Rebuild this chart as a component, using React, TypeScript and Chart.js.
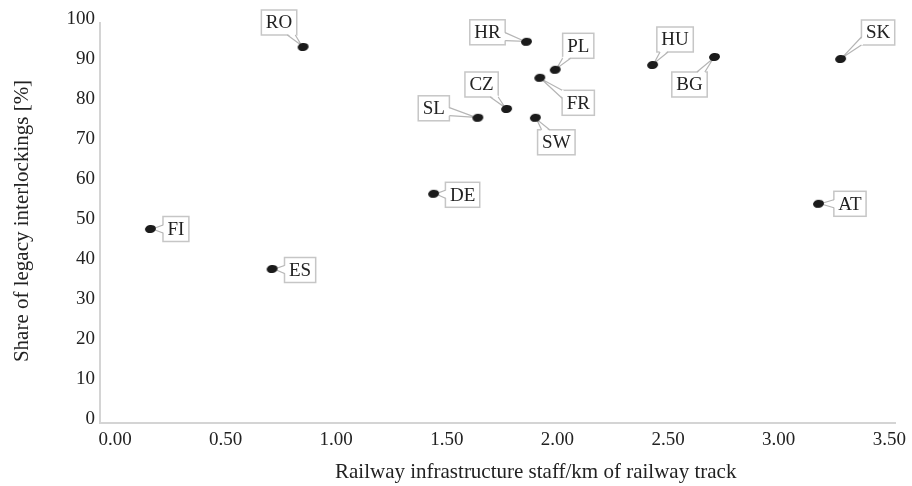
import React, { useEffect, useRef } from "react";
import { Chart, registerables } from "chart.js";

Chart.register(...registerables);

// ---- data ----
const countries = ["RO", "HR", "PL", "CZ", "SL", "FR", "SW", "HU", "BG", "SK", "FI", "ES", "DE", "AT"];
const staffPerKm = [0.85, 1.86, 1.99, 1.77, 1.64, 1.92, 1.9, 2.43, 2.71, 3.28, 0.16, 0.71, 1.44, 3.18];
const legacyShare = [94.0, 95.3, 88.3, 78.5, 76.3, 86.3, 76.3, 89.5, 91.5, 91.0, 48.5, 38.5, 57.3, 54.8];
const xTicks = [0, 0.5, 1, 1.5, 2, 2.5, 3, 3.5];
const yTicks = [0, 10, 20, 30, 40, 50, 60, 70, 80, 90, 100];
const xTitle = "Railway infrastructure staff/km of railway track";
const yTitle = "Share of legacy interlockings [%]";

// callout box centre offsets from each point (pixels)
const labelOffsets: [number, number][] = [
  [-24, -24.5], // RO
  [-39, -9.5], // HR
  [23, -24], // PL
  [-25, -24.5], // CZ
  [-44, -9.5], // SL
  [38.5, 25], // FR
  [21, 24.5], // SW
  [22.5, -25.5], // HU
  [-25, 27.5], // BG
  [37.5, -26.5], // SK
  [25.5, 0], // FI
  [28, 1], // ES
  [29, 1], // DE
  [31.5, 0], // AT
];

const FONT = "'Liberation Serif', 'Times New Roman', serif";
const TEXT = "#222222";

function makeMarker() {
  const c = document.createElement("canvas");
  c.width = 13;
  c.height = 10;
  const g = c.getContext("2d")!;
  g.fillStyle = "#1b1b1b";
  g.beginPath();
  g.ellipse(6.5, 5, 5.5, 4, -0.15, 0, Math.PI * 2);
  g.fill();
  return c;
}

const clamp = (v: number, a: number, b: number) => Math.max(a, Math.min(b, v));

const calloutPlugin = {
  id: "callouts",
  beforeDatasetsDraw(chart: any) {
    const ctx = chart.ctx as CanvasRenderingContext2D;
    const meta = chart.getDatasetMeta(0);
    ctx.save();
    ctx.font = `19px ${FONT}`;
    meta.data.forEach((el: any, i: number) => {
      const px = el.x;
      const py = el.y;
      const [dx, dy] = labelOffsets[i];
      const tw = ctx.measureText(countries[i]).width;
      const w = tw + 9;
      const h = 25;
      const cx = px + dx;
      const cy = py + dy;
      const left = cx - w / 2;
      const top = cy - h / 2;
      ctx.fillStyle = "#ffffff";
      ctx.strokeStyle = "#c6c6c6";
      ctx.lineWidth = 1.5;
      ctx.fillRect(left, top, w, h);
      ctx.strokeRect(left, top, w, h);

      const vx = px - cx;
      const vy = py - cy;
      const tx = vx !== 0 ? w / 2 / Math.abs(vx) : Infinity;
      const ty = vy !== 0 ? h / 2 / Math.abs(vy) : Infinity;
      const t = Math.min(tx, ty);
      const ex = cx + vx * t;
      const ey = cy + vy * t;
      const half = 4;
      let b1: [number, number];
      let b2: [number, number];
      let inX = 0;
      let inY = 0;
      if (tx < ty) {
        const yy = clamp(ey, top + half, top + h - half);
        b1 = [ex, yy - half];
        b2 = [ex, yy + half];
        inX = vx > 0 ? -1.5 : 1.5;
      } else {
        const xx = clamp(ex, left + half, left + w - half);
        b1 = [xx - half, ey];
        b2 = [xx + half, ey];
        inY = vy > 0 ? -1.5 : 1.5;
      }
      const mx = (b1[0] + b2[0]) / 2;
      const my = (b1[1] + b2[1]) / 2;
      const len = Math.hypot(px - mx, py - my);
      const ux = (px - mx) / len;
      const uy = (py - my) / len;
      const tipx = px - ux * 2;
      const tipy = py - uy * 2;
      ctx.fillStyle = "#ffffff";
      ctx.beginPath();
      ctx.moveTo(b1[0] + inX, b1[1] + inY);
      ctx.lineTo(tipx, tipy);
      ctx.lineTo(b2[0] + inX, b2[1] + inY);
      ctx.closePath();
      ctx.fill();
      ctx.strokeStyle = "#b5b5b5";
      ctx.lineWidth = 1.2;
      ctx.beginPath();
      ctx.moveTo(b1[0], b1[1]);
      ctx.lineTo(tipx, tipy);
      ctx.lineTo(b2[0], b2[1]);
      ctx.stroke();

      ctx.fillStyle = TEXT;
      ctx.textAlign = "center";
      ctx.textBaseline = "middle";
      ctx.fillText(countries[i], cx, cy + 1);
    });
    ctx.restore();
  },
  afterDraw(chart: any) {
    const ctx = chart.ctx as CanvasRenderingContext2D;
    ctx.save();
    ctx.fillStyle = TEXT;
    ctx.font = `21px ${FONT}`;
    ctx.textAlign = "left";
    ctx.textBaseline = "middle";
    ctx.fillText(xTitle, 335, 472);
    ctx.translate(22, 221);
    ctx.rotate(-Math.PI / 2);
    ctx.textAlign = "center";
    ctx.fillText(yTitle, 0, 0);
    ctx.restore();
  },
};

export default function App() {
  const ref = useRef<HTMLCanvasElement | null>(null);
  useEffect(() => {
    if (!ref.current) return;
    const marker = makeMarker();
    const chart = new Chart(ref.current, {
      type: "scatter",
      data: {
        datasets: [
          {
            data: staffPerKm.map((x, i) => ({ x, y: legacyShare[i] })),
            pointStyle: marker as any,
            pointRadius: 5,
            backgroundColor: "#1b1b1b",
          },
        ],
      },
      options: {
        animation: false,
        responsive: false,
        devicePixelRatio: 1,
        layout: { padding: { top: 23, right: 16, left: 0, bottom: 0 } },
        plugins: { legend: { display: false }, tooltip: { enabled: false } },
        scales: {
          x: {
            type: "linear",
            min: -0.068,
            max: 3.528,
            afterBuildTicks: (s: any) => {
              s.ticks = xTicks.map((v) => ({ value: v }));
            },
            afterFit: (s: any) => {
              s.height = 63;
            },
            grid: { display: false, drawTicks: false },
            border: { color: "#d4d4d4", width: 2 },
            ticks: {
              font: { family: FONT, size: 19 },
              color: TEXT,
              padding: 6,
              maxRotation: 0,
              autoSkip: false,
              callback: (v: any) => Number(v).toFixed(2),
            },
          },
          y: {
            type: "linear",
            min: 0,
            max: 100,
            afterBuildTicks: (s: any) => {
              s.ticks = yTicks.map((v) => ({ value: v }));
            },
            afterFit: (s: any) => {
              s.width = 100;
            },
            grid: { display: false, drawTicks: false },
            border: { color: "#d4d4d4", width: 2 },
            ticks: {
              font: { family: FONT, size: 19 },
              color: TEXT,
              padding: 5,
              labelOffset: -4,
              autoSkip: false,
            },
          },
        },
      },
      plugins: [calloutPlugin],
    });
    return () => chart.destroy();
  }, []);
  return (
    <div style={{ position: "absolute", left: 0, top: 0, width: 912, height: 486, background: "#fff" }}>
      <canvas ref={ref} width={912} height={486} style={{ width: 912, height: 486 }} />
    </div>
  );
}
